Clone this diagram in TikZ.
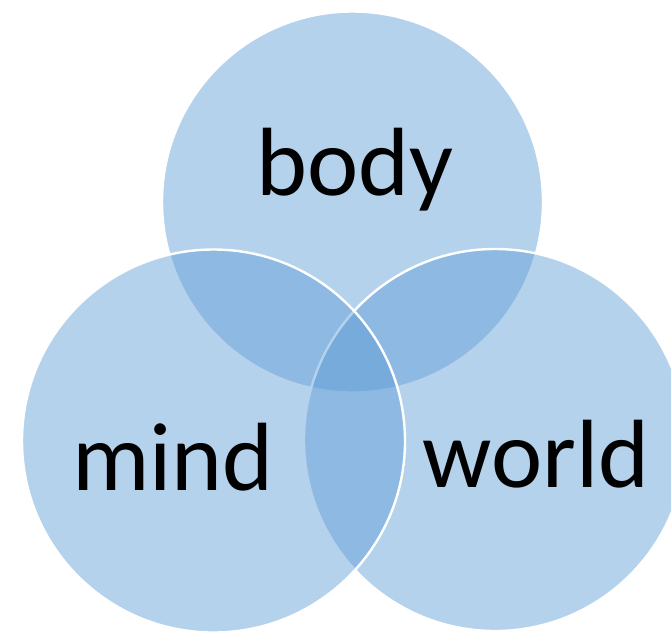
\documentclass[tikz,border=0pt]{standalone}
\usepackage{fontspec}
\setmainfont{Carlito}
\definecolor{vblue}{HTML}{5B9BD5}
\begin{document}
\begin{tikzpicture}[x=1pt,y=-1pt,
  venn/.style={fill=vblue,fill opacity=0.45,draw=white,line width=2.4pt},
  lbl/.style={anchor=base,inner sep=0pt,font=\fontsize{97}{97}\selectfont}]
\useasboundingbox (0,0) rectangle (671,632);
\begin{scope}
\clip (0,0) rectangle (671,632);
\path[venn] (352.5,202) circle[radius=190.5];
\path[venn] (495,440) circle[radius=191];
\path[venn] (213.5,441) circle[radius=191.5];
\end{scope}
\node[lbl] (body) at (355,195) {body};
\node[lbl] (mind) at (173,490) {mind};
\node[lbl] (world) at (536,487) {world};
\end{tikzpicture}
\end{document}
